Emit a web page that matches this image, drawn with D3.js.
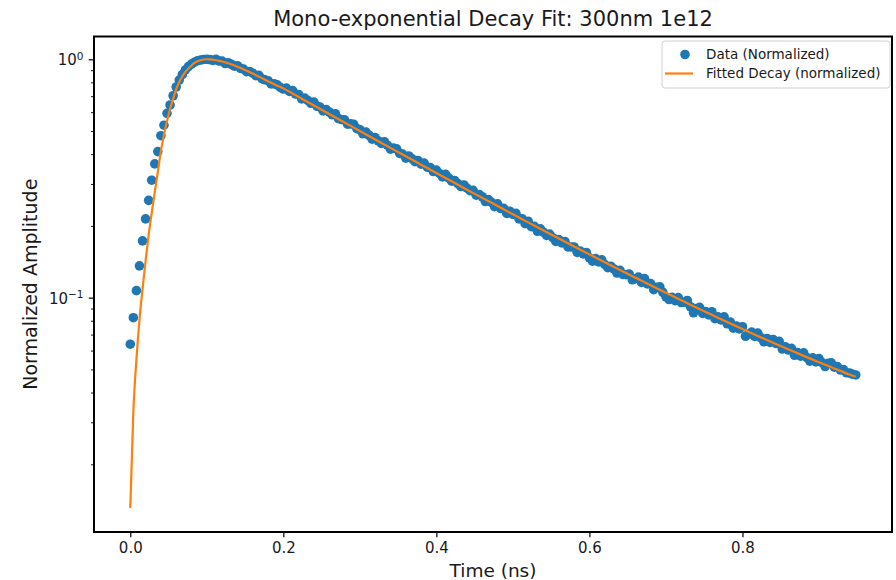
<!DOCTYPE html>
<html>
<head>
<meta charset="utf-8">
<script src="https://cdn.jsdelivr.net/npm/d3@7"></script>
<style>
  body { margin: 0; background: #fff; }
  text { font-family: "DejaVu Sans", sans-serif; fill: #1a1a1a; }
</style>
</head>
<body>
<script>
// sample times (ns) of the measured trace
const times = [
  0.000,0.004,0.008,0.012,0.016,0.020,0.024,0.028,0.032,0.036,
  0.040,0.044,0.048,0.052,0.056,0.060,0.064,0.068,0.072,0.076,
  0.080,0.084,0.088,0.092,0.096,0.100,0.104,0.108,0.112,0.116,
  0.120,0.124,0.128,0.132,0.136,0.140,0.144,0.148,0.152,0.156,
  0.160,0.164,0.168,0.172,0.176,0.180,0.184,0.188,0.192,0.196,
  0.200,0.204,0.208,0.212,0.216,0.220,0.224,0.228,0.232,0.236,
  0.240,0.244,0.248,0.252,0.256,0.260,0.264,0.268,0.272,0.276,
  0.280,0.284,0.288,0.292,0.296,0.300,0.304,0.308,0.312,0.316,
  0.320,0.324,0.328,0.332,0.336,0.340,0.344,0.348,0.352,0.356,
  0.360,0.364,0.368,0.372,0.376,0.380,0.384,0.388,0.392,0.396,
  0.400,0.404,0.408,0.412,0.416,0.420,0.424,0.428,0.432,0.436,
  0.440,0.444,0.448,0.452,0.456,0.460,0.464,0.468,0.472,0.476,
  0.480,0.484,0.488,0.492,0.496,0.500,0.504,0.508,0.512,0.516,
  0.520,0.524,0.528,0.532,0.536,0.540,0.544,0.548,0.552,0.556,
  0.560,0.564,0.568,0.572,0.576,0.580,0.584,0.588,0.592,0.596,
  0.600,0.604,0.608,0.612,0.616,0.620,0.624,0.628,0.632,0.636,
  0.640,0.644,0.648,0.652,0.656,0.660,0.664,0.668,0.672,0.676,
  0.680,0.684,0.688,0.692,0.696,0.700,0.704,0.708,0.712,0.716,
  0.720,0.724,0.728,0.732,0.736,0.740,0.744,0.748,0.752,0.756,
  0.760,0.764,0.768,0.772,0.776,0.780,0.784,0.788,0.792,0.796,
  0.800,0.804,0.808,0.812,0.816,0.820,0.824,0.828,0.832,0.836,
  0.840,0.844,0.848,0.852,0.856,0.860,0.864,0.868,0.872,0.876,
  0.880,0.884,0.888,0.892,0.896,0.900,0.904,0.908,0.912,0.916,
  0.920,0.924,0.928,0.932,0.936,0.940,0.944,0.948
];

// normalized amplitude of each sample
const amplitudes = [
  0.0638,0.0824,0.107,0.136,0.173,0.214,0.256,0.311,0.364,0.410,
  0.478,0.529,0.593,0.643,0.703,0.765,0.818,0.862,0.902,0.931,
  0.955,0.972,0.986,0.993,0.998,1.000,0.997,0.989,0.999,0.983,
  0.983,0.960,0.967,0.953,0.935,0.940,0.916,0.909,0.887,0.889,
  0.874,0.854,0.856,0.829,0.820,0.813,0.788,0.789,0.781,0.762,
  0.750,0.757,0.733,0.740,0.715,0.712,0.682,0.687,0.672,0.654,
  0.661,0.635,0.630,0.607,0.616,0.601,0.585,0.591,0.564,0.559,
  0.557,0.534,0.536,0.533,0.512,0.507,0.487,0.495,0.480,0.462,
  0.469,0.455,0.444,0.451,0.436,0.420,0.424,0.421,0.403,0.400,
  0.385,0.393,0.383,0.372,0.376,0.363,0.367,0.353,0.351,0.338,
  0.343,0.332,0.321,0.329,0.318,0.308,0.310,0.301,0.2925,0.297,
  0.288,0.281,0.282,0.269,0.271,0.265,0.253,0.258,0.251,0.241,
  0.2475,0.2367,0.2368,0.2257,0.2304,0.2234,0.2258,0.2139,0.2144,0.2043,
  0.2092,0.1986,0.1991,0.1898,0.1944,0.1881,0.1825,0.1848,0.1785,0.1722,
  0.1752,0.1696,0.1721,0.1633,0.1632,0.1631,0.1549,0.1569,0.1527,0.1548,
  0.1470,0.1423,0.1458,0.1413,0.1441,0.1378,0.1336,0.1355,0.1319,0.1269,
  0.1301,0.1250,0.1249,0.1256,0.1189,0.1201,0.1220,0.1159,0.1202,0.1142,
  0.1146,0.1080,0.1104,0.1110,0.1052,0.1008,0.0982,0.1003,0.0971,0.1001,
  0.0954,0.0956,0.0973,0.0916,0.0864,0.0901,0.0911,0.0859,0.0874,0.0847,
  0.0873,0.0816,0.0831,0.0807,0.0831,0.0777,0.0791,0.0745,0.0761,0.0740,
  0.0755,0.0689,0.0703,0.0717,0.0688,0.0710,0.0679,0.0653,0.0674,0.0649,
  0.0668,0.0642,0.0656,0.0609,0.0622,0.0603,0.0613,0.0573,0.0588,0.0568,
  0.0587,0.0561,0.0542,0.0559,0.0538,0.0555,0.0534,0.0514,0.0530,0.0533,
  0.0511,0.0514,0.0497,0.0499,0.0484,0.0483,0.0477,0.0474
];

// fitted curve
const fitTimes = [
  0.000,0.004,0.008,0.012,0.016,0.020,0.024,0.028,0.032,0.036,
  0.040,0.044,0.048,0.052,0.056,0.060,0.064,0.068,0.072,0.076,
  0.080,0.084,0.088,0.092,0.096,0.100,0.104,0.108,0.112,0.116,
  0.120,0.13,0.14,0.15,0.16,0.17,0.18,0.19,0.20,
  0.22,0.24,0.26,0.28,0.30,0.32,0.34,0.36,0.38,0.40,
  0.42,0.44,0.46,0.48,0.50,0.52,0.54,0.56,0.58,0.60,
  0.62,0.64,0.66,0.68,0.70,0.72,0.74,0.76,0.78,0.80,
  0.82,0.84,0.86,0.88,0.90,0.92,0.94,0.948
];
const fitValues = [
  0.0131,0.0332,0.0548,0.0806,0.1087,0.1425,0.1832,0.2265,0.2773,0.3365,
  0.4121,0.4809,0.5508,0.619,0.6815,0.750,0.803,0.847,0.884,0.915,
  0.942,0.965,0.981,0.991,0.998,1.000,0.999,0.9954,0.9908,0.9851,
  0.9784,0.957,0.931,0.9016,0.871,0.8395,0.809,0.780,0.7550,
  0.6951,0.6401,0.5896,0.5432,0.5003,0.4611,0.4249,0.3917,0.3613,0.3332,
  0.3076,0.2838,0.2621,0.2422,0.2238,0.2069,0.1912,0.1770,0.1639,0.1519,
  0.1408,0.1306,0.1213,0.1127,0.1048,0.0975,0.0908,0.0847,0.0790,0.0739,
  0.0691,0.0647,0.0607,0.0570,0.0536,0.0505,0.0476,0.0466
];

const xTickValues = [0, 0.2, 0.4, 0.6, 0.8];
const yMajorTicks = [1, 0.1];
const yMajorExponents = ["0", "\u22121"];
const yMinorTicks = [0.02,0.03,0.04,0.05,0.06,0.07,0.08,0.09,0.2,0.3,0.4,0.5,0.6,0.7,0.8,0.9];
const titleText = "Mono-exponential Decay Fit: 300nm 1e12";
const xLabel = "Time (ns)";
const yLabel = "Normalized Amplitude";
const legendLabels = ["Data (Normalized)", "Fitted Decay (normalized)"];

const width = 896, height = 580;
const plot = { left: 94, right: 892, top: 36.5, bottom: 532 };
const blue = "#1f77b4", orange = "#ff7f0e";

const svg = d3.select("body").append("svg")
  .attr("width", width)
  .attr("height", height)
  .attr("xmlns", "http://www.w3.org/2000/svg");

svg.append("rect").attr("width", width).attr("height", height).attr("fill", "#fff");

const x = d3.scaleLinear().domain([-0.0474, 0.9954]).range([plot.left, plot.right]);
const y = d3.scaleLog().domain([0.0104, 1.246]).range([plot.bottom, plot.top]);

svg.append("clipPath").attr("id", "plotclip")
  .append("rect")
  .attr("x", plot.left).attr("y", plot.top)
  .attr("width", plot.right - plot.left).attr("height", plot.bottom - plot.top);

const points = times.map((t, i) => [t, amplitudes[i]]);
const fit = fitTimes.map((t, i) => [t, fitValues[i]]);

const marks = svg.append("g").attr("clip-path", "url(#plotclip)");

marks.selectAll("circle.pt")
  .data(points)
  .enter().append("circle")
  .attr("class", "pt")
  .attr("cx", d => x(d[0]))
  .attr("cy", d => y(d[1]))
  .attr("r", 4.8)
  .attr("fill", blue);

const line = d3.line()
  .x(d => x(d[0]))
  .y(d => y(d[1]))
  .curve(d3.curveMonotoneX);

marks.append("path")
  .datum(fit)
  .attr("d", line)
  .attr("fill", "none")
  .attr("stroke", orange)
  .attr("stroke-width", 2.2);

// x axis
const xAxis = svg.append("g")
  .attr("transform", `translate(0,${plot.bottom})`)
  .call(d3.axisBottom(x).tickValues(xTickValues).tickSize(5.25).tickPadding(5)
    .tickFormat(d3.format(".1f")));
xAxis.select(".domain").remove();
xAxis.selectAll("line").attr("stroke", "#000").attr("stroke-width", 1.2);
xAxis.selectAll("text").style("font-size", "15px").attr("fill", "#1a1a1a");

// y axis, major ticks with 10^n labels
const yAxis = svg.append("g")
  .attr("transform", `translate(${plot.left},0)`)
  .call(d3.axisLeft(y).tickValues(yMajorTicks).tickSize(5.25).tickFormat(""));
yAxis.select(".domain").remove();
yAxis.selectAll("line").attr("stroke", "#000").attr("stroke-width", 1.2);

const yMinor = svg.append("g")
  .attr("transform", `translate(${plot.left},0)`)
  .call(d3.axisLeft(y).tickValues(yMinorTicks).tickSize(3).tickFormat(""));
yMinor.select(".domain").remove();
yMinor.selectAll("line").attr("stroke", "#000").attr("stroke-width", 0.9);

yMajorTicks.forEach((v, i) => {
  const t = svg.append("text")
    .attr("x", plot.left - 10.5)
    .attr("y", y(v) + 6)
    .attr("text-anchor", "end")
    .style("font-size", "15px");
  t.append("tspan").text("10");
  t.append("tspan").attr("dy", -5.5).style("font-size", "10.5px").text(yMajorExponents[i]);
});

// frame
svg.append("rect")
  .attr("x", plot.left).attr("y", plot.top)
  .attr("width", plot.right - plot.left).attr("height", plot.bottom - plot.top)
  .attr("fill", "none").attr("stroke", "#000").attr("stroke-width", 2);

// labels
svg.append("text")
  .attr("x", (plot.left + plot.right) / 2).attr("y", 26)
  .attr("text-anchor", "middle").style("font-size", "21px")
  .text(titleText);

svg.append("text")
  .attr("x", (plot.left + plot.right) / 2).attr("y", 577)
  .attr("text-anchor", "middle").style("font-size", "18.5px")
  .text(xLabel);

svg.append("text")
  .attr("transform", `translate(37,${(plot.top + plot.bottom) / 2}) rotate(-90)`)
  .attr("text-anchor", "middle").style("font-size", "19px")
  .text(yLabel);

// legend
const legend = svg.append("g");
legend.append("rect")
  .attr("x", 662).attr("y", 41).attr("width", 228).attr("height", 47).attr("rx", 3)
  .attr("fill", "#fff").attr("fill-opacity", 0.8)
  .attr("stroke", "#d0d0d0").attr("stroke-width", 1);
legend.append("circle").attr("cx", 685).attr("cy", 54.5).attr("r", 4.8).attr("fill", blue);
legend.append("line")
  .attr("x1", 665).attr("x2", 693).attr("y1", 73.5).attr("y2", 73.5)
  .attr("stroke", orange).attr("stroke-width", 2.2);
legend.selectAll("text.lg")
  .data(legendLabels)
  .enter().append("text")
  .attr("class", "lg")
  .attr("x", 706)
  .attr("y", (d, i) => 59.3 + i * 19)
  .style("font-size", "13.5px")
  .text(d => d);
</script>
</body>
</html>
